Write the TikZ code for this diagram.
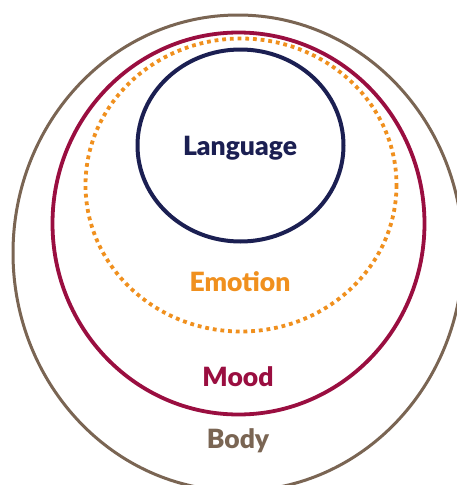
\documentclass[tikz,border=0pt]{standalone}
\usepackage{fontspec}
\setmainfont{Lato}[BoldFont={Lato Black}]
\definecolor{navy}{HTML}{1B1F52}
\definecolor{orangeE}{HTML}{F0901E}
\definecolor{crimson}{HTML}{9A0E40}
\definecolor{brownB}{HTML}{7A6553}
\tikzset{
  lbl/.style={font=\bfseries\fontsize{26.5}{28}\selectfont, inner sep=0pt, anchor=center},
}
\begin{document}
\begin{tikzpicture}[x=1pt,y=-1pt]
\useasboundingbox (0,0) rectangle (457,485);
\fill[white] (0,0) rectangle (457,485);
\begin{scope}
\clip (0,0) rectangle (457,485);
\draw[brownB, line width=3pt] (238,253) ellipse [x radius=225, y radius=238];
\draw[crimson, line width=3.8pt] (238.5,223.5) ellipse [x radius=186, y radius=191];
\draw[orangeE, line width=3.8pt, dash pattern=on 3.8pt off 3.9pt] (241,185) ellipse [x radius=155.5, y radius=146.5];
\draw[navy, line width=4pt] (240.5,145.5) ellipse [x radius=103, y radius=96];
\end{scope}
\node[lbl, text=navy] (language) at (240,148) {Language};
\node[lbl, text=orangeE] (emotion) at (240,282) {Emotion};
\node[lbl, text=crimson] (mood) at (238,377) {Mood};
\node[lbl, text=brownB] (body) at (238,441) {Body};
\end{tikzpicture}
\end{document}
